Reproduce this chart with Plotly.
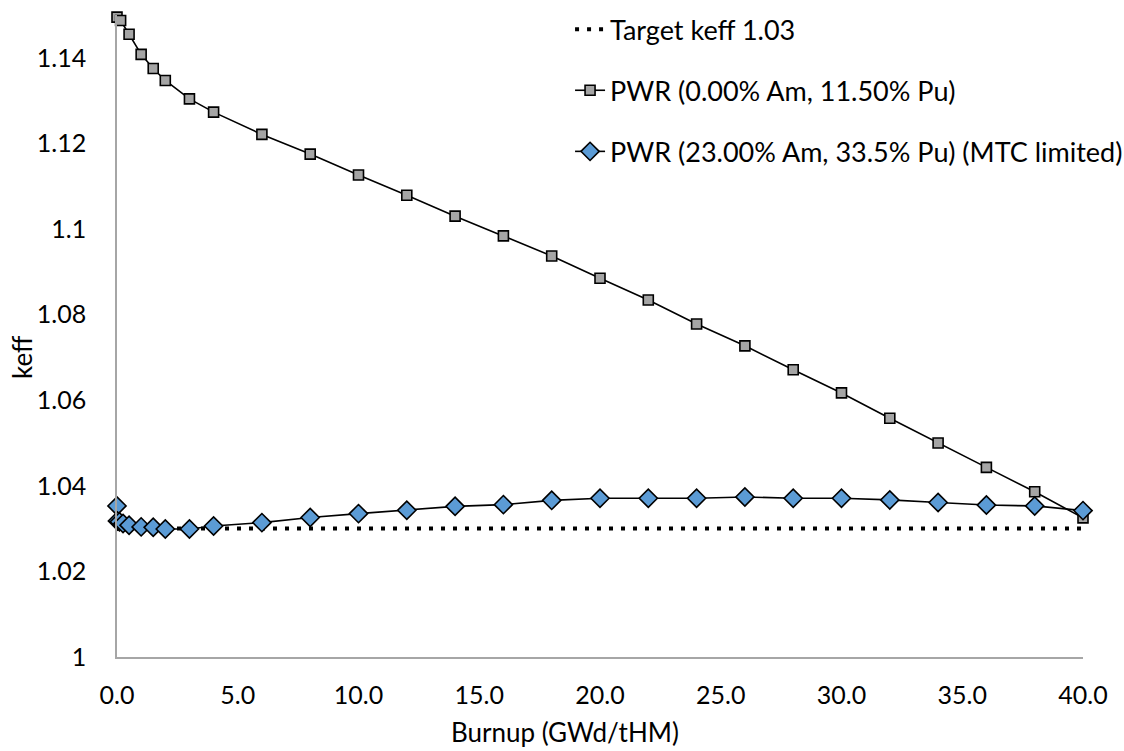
import plotly.graph_objects as go

# ---- data ----
target_x = [0, 40]
target_y = [1.03, 1.03]

pwr0_x = [0, 0.15, 0.5, 1, 1.5, 2, 3, 4, 6, 8, 10, 12, 14, 16, 18, 20, 22, 24,
          26, 28, 30, 32, 34, 36, 38, 40]
pwr0_y = [1.1495, 1.1487, 1.1455, 1.1408, 1.1375, 1.1347, 1.1304, 1.1273,
          1.1221, 1.1175, 1.1126, 1.1079, 1.1030, 1.0984, 1.0937, 1.0885,
          1.0834, 1.0778, 1.0727, 1.0671, 1.0617, 1.0558, 1.0500, 1.0443,
          1.0386, 1.0325]

pwr23_x = [0, 0.02, 0.1, 0.25, 0.5, 1, 1.5, 2, 3, 4, 6, 8, 10, 12, 14, 16, 18,
           20, 22, 24, 26, 28, 30, 32, 34, 36, 38, 40]
pwr23_y = [1.0353, 1.0318, 1.0316, 1.0312, 1.0308, 1.0304, 1.0303, 1.0299,
           1.0299, 1.0306, 1.0314, 1.0326, 1.0335, 1.0343, 1.0352, 1.0356,
           1.0366, 1.0371, 1.0371, 1.0371, 1.0374, 1.0371, 1.0371, 1.0367,
           1.0361, 1.0355, 1.0353, 1.0342]

x_tickvals = [0, 5, 10, 15, 20, 25, 30, 35, 40]
x_ticktext = ["0.0", "5.0", "10.0", "15.0", "20.0", "25.0", "30.0", "35.0", "40.0"]
y_tickvals = [1.0, 1.02, 1.04, 1.06, 1.08, 1.10, 1.12, 1.14]
y_ticktext = ["1", "1.02", "1.04", "1.06", "1.08", "1.1", "1.12", "1.14"]

names = ["Target keff 1.03", "PWR (0.00% Am, 11.50% Pu)",
         "PWR (23.00% Am, 33.5% Pu) (MTC limited)"]

FONT = "Lato"

fig = go.Figure()
fig.add_trace(go.Scatter(
    x=target_x, y=target_y, mode="lines", name=names[0], legendgroup="a",
    line=dict(color="black", width=4, dash="4px,8px"), cliponaxis=False))
fig.add_trace(go.Scatter(
    x=pwr0_x, y=pwr0_y, mode="lines+markers", name=names[1], legendgroup="b",
    line=dict(color="black", width=1.6),
    marker=dict(symbol="square", size=10, color="#a5a5a5",
                line=dict(color="black", width=1.6)),
    cliponaxis=False))
fig.add_trace(go.Scatter(
    x=pwr23_x, y=pwr23_y, mode="lines+markers", name=names[2], legendgroup="c",
    line=dict(color="black", width=1.6),
    marker=dict(symbol="diamond", size=14, color="#5b9bd5",
                line=dict(color="black", width=1.6)),
    cliponaxis=False))

fig.update_layout(
    width=1124, height=751,
    margin=dict(l=117, r=41, t=15, b=94, autoexpand=False),
    paper_bgcolor="white", plot_bgcolor="white",
    font=dict(family=FONT, size=25, color="black"),
    showlegend=True,
    legend=dict(x=0.469, y=1.0154, xanchor="left", yanchor="top",
                traceorder="grouped", tracegroupgap=23,
                font=dict(family=FONT, size=27, color="black"),
                bgcolor="rgba(0,0,0,0)"),
    xaxis=dict(range=[0, 40], tickvals=x_tickvals, ticktext=x_ticktext,
               showline=True, linecolor="#a6a6a6", linewidth=1.5,
               showgrid=False, zeroline=False, ticks="",
               ticklabelstandoff=15,
               tickfont=dict(family=FONT, size=25, color="black")),
    yaxis=dict(range=[1.0, 1.15], tickvals=y_tickvals, ticktext=y_ticktext,
               showline=True, linecolor="#a6a6a6", linewidth=1.5,
               showgrid=False, zeroline=False, ticks="",
               ticklabelstandoff=24,
               tickfont=dict(family=FONT, size=25, color="black")),
    annotations=[
        dict(text="Burnup (GWd/tHM)", xref="paper", yref="paper",
             x=(565 - 117) / 966, y=-(732 - 657) / 642, xanchor="center",
             yanchor="middle", showarrow=False,
             font=dict(family=FONT, size=26, color="black")),
        dict(text="keff", xref="paper", yref="paper",
             x=-(117 - 22) / 966, y=(657 - 357) / 642, xanchor="center",
             yanchor="middle", textangle=-90, showarrow=False,
             font=dict(family=FONT, size=26, color="black")),
    ],
)

fig.write_html("out.html")
